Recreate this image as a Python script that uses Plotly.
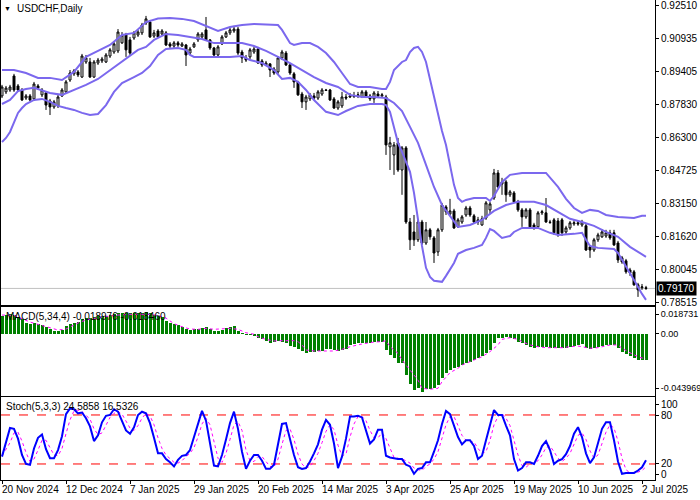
import plotly.graph_objects as go

# ---------------- data ----------------
bar_idx = list(range(162))

open_ = [0.8824,0.8843,0.8852,0.8918,0.8871,0.8852,0.8814,0.8824,0.8810,0.8871,
         0.8829,0.8838,0.8800,0.8772,0.8777,0.8824,0.8843,0.8899,0.8928,0.8937,
         0.8913,0.8984,0.8984,0.8913,0.8979,0.8989,0.8984,0.9012,0.9031,0.9036,
         0.9074,0.9111,0.9088,0.9097,0.9111,0.9121,0.9168,0.9172,0.9106,0.9130,
         0.9116,0.9121,0.9069,0.9059,0.9074,0.9059,0.9064,0.9026,0.9055,0.9088,
         0.9102,0.9135,0.9088,0.9050,0.9017,0.9069,0.9102,0.9121,0.9130,0.9139,
         0.9031,0.9003,0.9008,0.9031,0.9045,0.8989,0.8970,0.8975,0.8951,0.8937,
         0.9003,0.9026,0.8970,0.8928,0.8890,0.8833,0.8796,0.8810,0.8824,0.8814,
         0.8833,0.8852,0.8852,0.8810,0.8767,0.8777,0.8819,0.8819,0.8824,0.8824,
         0.8819,0.8843,0.8824,0.8810,0.8833,0.8824,0.8819,0.8584,0.8546,0.8603,
         0.8475,0.8579,0.8230,0.8183,0.8146,0.8230,0.8131,0.8193,0.8155,0.8089,
         0.8193,0.8301,0.8268,0.8282,0.8207,0.8230,0.8263,0.8296,0.8259,0.8230,
         0.8216,0.8249,0.8287,0.8343,0.8461,0.8409,0.8419,0.8358,0.8367,0.8325,
         0.8287,0.8254,0.8287,0.8216,0.8207,0.8273,0.8273,0.8230,0.8240,0.8235,
         0.8240,0.8183,0.8202,0.8221,0.8226,0.8216,0.8212,0.8113,0.8098,0.8146,
         0.8160,0.8164,0.8179,0.8179,0.8131,0.8061,0.8047,0.8004,0.7995,0.7934,
         0.7920,0.7920]
high_ = [0.8876,0.8871,0.8876,0.8928,0.8880,0.8861,0.8833,0.8833,0.8890,0.8880,
         0.8861,0.8843,0.8810,0.8805,0.8829,0.8861,0.8899,0.8946,0.8951,0.8946,
         0.9022,0.9017,0.9003,0.8993,0.9003,0.9008,0.9026,0.9050,0.9078,0.9139,
         0.9125,0.9121,0.9102,0.9130,0.9135,0.9168,0.9201,0.9182,0.9135,0.9139,
         0.9139,0.9130,0.9078,0.9083,0.9083,0.9078,0.9069,0.9055,0.9078,0.9125,
         0.9125,0.9196,0.9092,0.9055,0.9064,0.9111,0.9130,0.9144,0.9154,0.9149,
         0.9041,0.9017,0.9050,0.9055,0.9055,0.8998,0.8989,0.8979,0.8960,0.9012,
         0.9041,0.9036,0.8979,0.8937,0.8895,0.8843,0.8829,0.8838,0.8838,0.8852,
         0.8861,0.8857,0.8857,0.8819,0.8805,0.8843,0.8833,0.8838,0.8843,0.8843,
         0.8852,0.8852,0.8833,0.8847,0.8847,0.8838,0.8829,0.8631,0.8607,0.8626,
         0.8588,0.8588,0.8249,0.8263,0.8240,0.8240,0.8230,0.8202,0.8164,0.8202,
         0.8320,0.8310,0.8339,0.8292,0.8249,0.8263,0.8306,0.8306,0.8268,0.8254,
         0.8259,0.8329,0.8325,0.8480,0.8475,0.8438,0.8428,0.8381,0.8376,0.8334,
         0.8296,0.8296,0.8296,0.8226,0.8282,0.8287,0.8343,0.8240,0.8249,0.8249,
         0.8249,0.8212,0.8235,0.8240,0.8235,0.8240,0.8221,0.8122,0.8155,0.8179,
         0.8197,0.8193,0.8193,0.8193,0.8141,0.8070,0.8056,0.8014,0.8004,0.7943,
         0.7938,0.7929]
low_ = [0.8814,0.8833,0.8843,0.8843,0.8843,0.8800,0.8805,0.8800,0.8800,0.8852,
        0.8819,0.8758,0.8734,0.8763,0.8767,0.8819,0.8838,0.8890,0.8918,0.8913,
        0.8909,0.8975,0.8909,0.8909,0.8970,0.8979,0.8979,0.9003,0.9022,0.9026,
        0.9069,0.9008,0.9017,0.9088,0.9102,0.9111,0.9158,0.9097,0.9097,0.9097,
        0.9111,0.9059,0.9050,0.9050,0.9055,0.9055,0.8965,0.9017,0.9050,0.9078,
        0.9092,0.9083,0.9041,0.9003,0.9008,0.9064,0.9097,0.9111,0.9121,0.9017,
        0.8979,0.8984,0.8998,0.9022,0.8975,0.8960,0.8965,0.8913,0.8923,0.8928,
        0.8993,0.8965,0.8923,0.8862,0.8824,0.8767,0.8758,0.8800,0.8805,0.8805,
        0.8824,0.8847,0.8800,0.8763,0.8758,0.8767,0.8805,0.8814,0.8814,0.8814,
        0.8814,0.8814,0.8800,0.8791,0.8814,0.8814,0.8546,0.8475,0.8452,0.8466,
        0.8358,0.8221,0.8098,0.8117,0.8136,0.8122,0.8122,0.8146,0.8037,0.8070,
        0.8183,0.8263,0.8259,0.8197,0.8202,0.8221,0.8254,0.8254,0.8221,0.8216,
        0.8212,0.8240,0.8268,0.8334,0.8391,0.8358,0.8325,0.8348,0.8320,0.8278,
        0.8207,0.8245,0.8202,0.8193,0.8202,0.8263,0.8226,0.8221,0.8169,0.8160,
        0.8164,0.8174,0.8193,0.8212,0.8212,0.8207,0.8094,0.8061,0.8089,0.8136,
        0.8155,0.8155,0.8146,0.8117,0.8037,0.8033,0.7986,0.7976,0.7929,0.7877,
        0.7910,0.7910]
close_ = [0.8866,0.8861,0.8866,0.8852,0.8852,0.8805,0.8824,0.8805,0.8880,0.8861,
          0.8852,0.8781,0.8772,0.8796,0.8819,0.8852,0.8890,0.8932,0.8942,0.8923,
          0.9012,0.9003,0.8913,0.8984,0.8993,0.8998,0.9017,0.9041,0.9069,0.9125,
          0.9111,0.9041,0.9026,0.9121,0.9125,0.9158,0.9187,0.9102,0.9121,0.9102,
          0.9130,0.9064,0.9059,0.9074,0.9064,0.9069,0.9017,0.9045,0.9069,0.9116,
          0.9116,0.9088,0.9050,0.9017,0.9055,0.9102,0.9121,0.9135,0.9139,0.9026,
          0.9003,0.8993,0.9041,0.9045,0.8979,0.8970,0.8979,0.8946,0.8932,0.9003,
          0.9031,0.8970,0.8932,0.8890,0.8829,0.8796,0.8819,0.8829,0.8814,0.8843,
          0.8852,0.8850,0.8805,0.8767,0.8796,0.8819,0.8814,0.8824,0.8821,0.8829,
          0.8843,0.8824,0.8810,0.8838,0.8824,0.8829,0.8593,0.8603,0.8593,0.8475,
          0.8579,0.8230,0.8146,0.8146,0.8230,0.8131,0.8193,0.8160,0.8084,0.8193,
          0.8310,0.8278,0.8282,0.8202,0.8240,0.8254,0.8296,0.8263,0.8230,0.8240,
          0.8245,0.8320,0.8315,0.8461,0.8395,0.8419,0.8358,0.8372,0.8325,0.8287,
          0.8254,0.8287,0.8207,0.8202,0.8273,0.8278,0.8230,0.8228,0.8179,0.8169,
          0.8179,0.8202,0.8226,0.8226,0.8221,0.8230,0.8098,0.8098,0.8146,0.8169,
          0.8183,0.8179,0.8155,0.8122,0.8051,0.8042,0.7995,0.7990,0.7934,0.7910,
          0.7924,0.7917]

bb_up_idx = [0,3,6,9,12,15,18,21,24,27,30,33,36,39,42,45,48,51,54,57,60,63,66,69,70,71,72,73,
             75,77,79,81,83,85,87,89,92,95,96,97,98,100,101,102,103,104,105,106,107,108,109,
             110,111,112,113,114,115,116,118,121,122,123,124,125,127,130,136,137,139,141,143,
             145,147,149,151,154,158,160,161]
bb_up = [0.8946,0.8946,0.8932,0.8909,0.8909,0.8899,0.8937,0.9008,0.9036,0.9064,0.9111,0.9121,
         0.9172,0.9189,0.9191,0.9187,0.9177,0.9154,0.9130,0.9149,0.9158,0.9163,0.9161,0.9158,
         0.9135,0.9102,0.9073,0.9064,0.9073,0.9073,0.9055,0.9026,0.8984,0.8932,0.8880,0.8866,
         0.8866,0.8857,0.8857,0.8890,0.8946,0.8984,0.8993,0.9031,0.9050,0.9055,0.9031,0.8984,
         0.8899,0.8819,0.8744,0.8659,0.8593,0.8499,0.8405,0.8343,0.8325,0.8334,0.8343,0.8343,
         0.8329,0.8353,0.8386,0.8419,0.8452,0.8461,0.8461,0.8438,0.8395,0.8339,0.8296,0.8273,
         0.8287,0.8282,0.8263,0.8254,0.8249,0.8259,0.8259]

bb_mid_idx = [0,2,4,6,8,12,15,18,21,24,28,31,34,36,38,41,44,47,50,53,57,60,63,66,69,72,75,78,
              81,84,87,90,93,96,98,100,102,104,106,108,110,112,114,117,120,123,126,129,133,136,
              139,142,145,148,151,154,157,159,161]
bb_mid = [0.8786,0.8805,0.8847,0.8857,0.8862,0.8838,0.8829,0.8852,0.8876,0.8904,0.8960,0.9003,
          0.9041,0.9055,0.9088,0.9116,0.9111,0.9102,0.9092,0.9073,0.9073,0.9073,0.9059,0.9036,
          0.9008,0.8979,0.8946,0.8913,0.8885,0.8866,0.8829,0.8819,0.8819,0.8814,0.8791,0.8753,
          0.8678,0.8603,0.8499,0.8395,0.8310,0.8259,0.8207,0.8216,0.8240,0.8282,0.8310,0.8325,
          0.8325,0.8310,0.8278,0.8245,0.8230,0.8212,0.8183,0.8160,0.8113,0.8089,0.8066]

bb_low_idx = [0,1,2,3,4,5,6,8,10,12,14,16,18,20,22,24,26,28,30,33,35,37,39,41,44,46,47,48,57,60,
              62,65,68,70,72,74,76,78,81,84,86,89,92,95,96,97,98,99,100,101,102,103,104,105,106,
              107,108,110,111,112,113,114,116,118,120,121,122,123,125,127,128,130,134,137,139,
              143,145,146,147,149,153,154,156,158,160,161]
bb_low = [0.8607,0.8626,0.8654,0.8701,0.8744,0.8767,0.8786,0.8805,0.8810,0.8796,0.8777,0.8767,
          0.8758,0.8744,0.8734,0.8739,0.8781,0.8843,0.8885,0.8913,0.8932,0.8965,0.9017,0.9045,
          0.9050,0.9041,0.9017,0.9008,0.9008,0.9012,0.8993,0.8979,0.8946,0.8904,0.8909,0.8890,
          0.8852,0.8805,0.8749,0.8734,0.8753,0.8777,0.8786,0.8786,0.8781,0.8749,0.8678,0.8603,
          0.8560,0.8513,0.8466,0.8367,0.8230,0.8117,0.8014,0.7971,0.7953,0.7948,0.7976,0.8004,
          0.8037,0.8080,0.8098,0.8108,0.8122,0.8155,0.8197,0.8188,0.8155,0.8164,0.8183,0.8202,
          0.8202,0.8179,0.8169,0.8174,0.8179,0.8146,0.8117,0.8108,0.8103,0.8084,0.8023,0.7957,
          0.7891,0.7863]

macd_hist = [0.0131,0.0136,0.0141,0.0136,0.0124,0.0105,0.0080,0.0071,0.0076,0.0071,
             0.0063,0.0051,0.0034,0.0022,0.0022,0.0027,0.0056,0.0071,0.0080,0.0087,
             0.0105,0.0112,0.0112,0.0120,0.0129,0.0131,0.0129,0.0136,0.0144,0.0149,
             0.0149,0.0149,0.0149,0.0149,0.0149,0.0149,0.0160,0.0149,0.0136,0.0129,
             0.0120,0.0095,0.0076,0.0071,0.0063,0.0051,0.0032,0.0027,0.0032,0.0034,
             0.0044,0.0047,0.0034,0.0022,0.0022,0.0027,0.0039,0.0051,0.0056,0.0020,
             0.0003,-0.0009,-0.0009,-0.0017,-0.0029,-0.0041,-0.0053,-0.0066,-0.0058,-0.0053,
             -0.0058,-0.0070,-0.0087,-0.0099,-0.0114,-0.0126,-0.0139,-0.0131,-0.0131,-0.0126,
             -0.0124,-0.0114,-0.0114,-0.0119,-0.0124,-0.0119,-0.0114,-0.0082,-0.0075,-0.0070,
             -0.0070,-0.0066,-0.0066,-0.0063,-0.0058,-0.0058,-0.0119,-0.0155,-0.0179,-0.0216,
             -0.0211,-0.0301,-0.0369,-0.0410,-0.0398,-0.0423,-0.0405,-0.0405,-0.0398,-0.0374,
             -0.0325,-0.0284,-0.0265,-0.0252,-0.0241,-0.0228,-0.0216,-0.0204,-0.0192,-0.0175,
             -0.0163,-0.0143,-0.0119,-0.0066,-0.0034,-0.0029,-0.0026,-0.0034,-0.0041,-0.0058,
             -0.0066,-0.0082,-0.0099,-0.0106,-0.0099,-0.0095,-0.0099,-0.0102,-0.0102,-0.0102,
             -0.0106,-0.0102,-0.0095,-0.0090,-0.0082,-0.0077,-0.0106,-0.0114,-0.0106,-0.0095,
             -0.0090,-0.0082,-0.0082,-0.0082,-0.0106,-0.0131,-0.0148,-0.0163,-0.0179,-0.0192,
             -0.0190,-0.0190]

macd_sig_idx = [0,3,7,11,14,16,19,21,25,29,32,37,39,41,43,45,47,49,51,53,57,59,61,63,64,66,68,
                70,73,74,75,76,78,83,85,87,90,93,95,96,97,99,100,102,104,105,107,109,110,112,
                114,115,117,119,120,122,124,125,127,129,130,132,134,136,140,142,144,145,147,149,
                150,152,154,155,157,159,161]
macd_sig = [0.0136,0.0133,0.0085,0.0049,0.0027,0.0034,0.0078,0.0100,0.0122,0.0136,0.0141,0.0141,
            0.0133,0.0114,0.0073,0.0051,0.0034,0.0032,0.0039,0.0032,0.0039,0.0032,0.0007,-0.0004,
            -0.0022,-0.0042,-0.0053,-0.0051,-0.0051,-0.0058,-0.0082,-0.0119,-0.0126,-0.0126,
            -0.0114,-0.0095,-0.0075,-0.0061,-0.0058,-0.0051,-0.0095,-0.0143,-0.0192,-0.0265,
            -0.0338,-0.0398,-0.0405,-0.0398,-0.0350,-0.0284,-0.0252,-0.0228,-0.0204,-0.0179,
            -0.0168,-0.0131,-0.0082,-0.0041,-0.0029,-0.0041,-0.0058,-0.0082,-0.0095,-0.0102,
            -0.0102,-0.0095,-0.0090,-0.0095,-0.0106,-0.0102,-0.0095,-0.0082,-0.0082,-0.0106,
            -0.0139,-0.0168,-0.0185]

stoch_main = [29,46,64,63,51,31,20,19,39,52,56,38,27,27,37,54,81,88,87,82,
              83,76,66,48,55,71,79,80,87,84,73,61,57,65,80,84,82,70,52,33,
              33,26,22,17,25,30,31,37,53,70,85,73,47,18,17,31,50,70,84,63,
              35,14,24,31,31,24,14,14,19,44,69,70,49,31,16,14,15,23,33,44,
              62,74,68,45,15,29,51,78,78,79,77,62,45,50,62,62,30,28,27,26,
              26,19,17,8,14,15,22,22,35,49,69,85,81,68,53,44,49,49,42,26,
              30,49,69,86,80,80,67,55,26,12,15,22,22,20,30,42,48,37,20,24,
              26,32,42,57,65,53,33,21,28,44,63,71,71,49,23,8,9,9,9,12,
              16,24.59]
stoch_sig = [30,38,46,58,59,48,34,23,26,37,49,49,40,31,30,39,57,74,85,86,
             84,80,75,63,56,58,68,77,82,84,81,73,64,61,67,76,82,79,68,52,
             39,31,27,22,21,24,29,33,40,53,69,76,68,46,27,22,33,50,68,72,
             61,37,24,23,29,29,23,17,16,26,44,61,63,50,32,20,15,17,24,33,
             46,60,68,62,43,30,32,53,69,78,78,73,61,52,52,58,51,40,28,27,
             26,24,21,15,13,12,17,20,26,35,51,68,78,78,67,55,49,47,47,39,
             33,35,49,68,78,82,76,67,49,31,18,16,20,21,24,31,40,42,35,27,
             23,27,33,44,55,58,50,36,27,31,45,59,68,64,48,27,13,9,9,10,
             12,16.53]

price_ticks = [0.92510, 0.90935, 0.89405, 0.87830, 0.86300, 0.84725, 0.83150, 0.81620, 0.80045, 0.78515]
last_price = 0.79170
macd_tick_text = ["0.018731", "0.00", "-0.043969"]
stoch_tick_text = ["100", "80", "20", "0"]
stoch_levels = [20, 80]
date_tick_idx = [0, 16, 32, 48, 64, 80, 96, 112, 128, 144, 160]
date_labels = ["20 Nov 2024", "12 Dec 2024", "7 Jan 2025", "29 Jan 2025", "20 Feb 2025",
               "14 Mar 2025", "3 Apr 2025", "25 Apr 2025", "19 May 2025", "10 Jun 2025", "2 Jul 2025"]
title_text = "USDCHF,Daily"
macd_text = "MACD(5,34,4) -0.018976 -0.018460"
stoch_text = "Stoch(5,3,3) 24.5858 16.5326"

# ---------------- layout geometry ----------------
W, H = 700, 500
ML, MR, MT, MB = 1, 45, 0, 20
PH = H - MT - MB          # plot-area height in px
PW = W - ML - MR


def fy(px):               # pixel row -> paper fraction
    return (H - MB - px) / PH


def fx(px):
    return (px - ML) / PW


FONT = "Liberation Sans, Arial, sans-serif"
FS = 10
BB_COLOR = "#7B68EE"

fig = go.Figure()

fig.add_trace(go.Candlestick(
    x=bar_idx, open=open_, high=high_, low=low_, close=close_,
    increasing=dict(line=dict(color="black", width=1), fillcolor="white"),
    decreasing=dict(line=dict(color="black", width=1), fillcolor="black"),
    whiskerwidth=0, xaxis="x", yaxis="y", hoverinfo="skip", showlegend=False))

for xs, ys in [(bb_up_idx, bb_up), (bb_mid_idx, bb_mid), (bb_low_idx, bb_low)]:
    fig.add_trace(go.Scatter(x=xs, y=ys, mode="lines", line=dict(color=BB_COLOR, width=2),
                             xaxis="x", yaxis="y", hoverinfo="skip", showlegend=False))

fig.add_trace(go.Bar(x=bar_idx, y=macd_hist, marker=dict(color="#008000", line=dict(width=0)),
                     width=0.75, xaxis="x2", yaxis="y2", hoverinfo="skip", showlegend=False))
fig.add_trace(go.Scatter(x=macd_sig_idx, y=macd_sig, mode="lines",
                         line=dict(color="#FF00FF", width=1, dash="dot"),
                         xaxis="x2", yaxis="y2", hoverinfo="skip", showlegend=False))

fig.add_trace(go.Scatter(x=bar_idx, y=stoch_sig, mode="lines",
                         line=dict(color="#FF00FF", width=1, dash="dot"),
                         xaxis="x3", yaxis="y3", hoverinfo="skip", showlegend=False))
fig.add_trace(go.Scatter(x=bar_idx, y=stoch_main, mode="lines",
                         line=dict(color="#0000FF", width=2),
                         xaxis="x3", yaxis="y3", hoverinfo="skip", showlegend=False))

xr = [-0.25, 163.25]
axis_common = dict(showline=True, mirror=True, linecolor="black", linewidth=1,
                   showgrid=False, zeroline=False, automargin=False)
ytick_font = dict(family=FONT, size=FS, color="black")

fig.update_layout(
    width=W, height=H, margin=dict(l=ML, r=MR, t=MT, b=MB, autoexpand=False),
    paper_bgcolor="white", plot_bgcolor="white", showlegend=False,
    font=dict(family=FONT, size=FS, color="black"),
    bargap=0, hovermode=False, dragmode=False,
    xaxis=dict(domain=[0, 1], range=xr, anchor="y", showticklabels=False, ticks="",
               rangeslider=dict(visible=False), **axis_common),
    xaxis2=dict(domain=[0, 1], range=xr, anchor="y2", matches="x", showticklabels=False,
                ticks="", **axis_common),
    xaxis3=dict(domain=[0, 1], range=xr, anchor="y3", matches="x", showticklabels=False,
                ticks="outside", ticklen=3, tickcolor="black", tickvals=date_tick_idx,
                **axis_common),
    yaxis=dict(domain=[fy(304.5), 1.0], range=[0.78412, 0.92760], anchor="x", side="right",
               tickvals=price_ticks, ticktext=["%.5f" % v for v in price_ticks],
               ticks="outside", ticklen=3, tickcolor="black", tickfont=ytick_font,
               ticklabeloverflow="allow", **axis_common),
    yaxis2=dict(domain=[fy(395.5), fy(306.5)], range=[-0.04505, 0.01983], anchor="x2",
                side="right", tickvals=[0.01414, 0.0, -0.0398], ticktext=macd_tick_text,
                ticks="outside", ticklen=3, tickcolor="black",
                tickfont=dict(family=FONT, size=9, color="black"),
                ticklabeloverflow="allow", **axis_common),
    yaxis3=dict(domain=[0, fy(397)], range=[0.37, 102.0], anchor="x3", side="right",
                tickvals=[93.4, 79, 20, 7.7], ticktext=stoch_tick_text,
                ticks="outside", ticklen=3, tickcolor="black", tickfont=ytick_font,
                ticklabeloverflow="allow", **axis_common),
)

shapes = [
    dict(type="line", xref="paper", yref="y", x0=0, x1=1, y0=last_price, y1=last_price,
         line=dict(color="#C0C0C0", width=1), layer="below"),
]
for lv in stoch_levels:
    shapes.append(dict(type="line", xref="paper", yref="y3", x0=0, x1=1, y0=lv, y1=lv,
                       line=dict(color="#FF0000", width=1, dash="dash"), layer="below"))
fig.update_layout(shapes=shapes)

ann = [
    dict(text="▼", xref="paper", yref="paper", x=fx(7), y=fy(8), showarrow=False,
         xanchor="center", yanchor="middle", font=dict(size=7, color="black")),
    dict(text=title_text, xref="paper", yref="paper", x=fx(15), y=fy(8), showarrow=False,
         xanchor="left", yanchor="middle", font=dict(family=FONT, size=10, color="black")),
    dict(text=macd_text, xref="paper", yref="paper", x=fx(4), y=fy(316), showarrow=False,
         xanchor="left", yanchor="middle", font=dict(family=FONT, size=FS, color="black")),
    dict(text=stoch_text, xref="paper", yref="paper", x=fx(4), y=fy(406), showarrow=False,
         xanchor="left", yanchor="middle", font=dict(family=FONT, size=FS, color="black")),
    dict(text="%.5f" % last_price, xref="paper", yref="y", x=1, y=last_price, showarrow=False,
         xanchor="left", yanchor="middle", xshift=1, bgcolor="black", borderpad=1,
         font=dict(family=FONT, size=FS, color="white")),
]
for ti, lab in zip(date_tick_idx, date_labels):
    ann.append(dict(text=lab, xref="x3", yref="paper", x=ti, y=fy(490), showarrow=False,
                    xanchor="left", yanchor="middle", xshift=-2,
                    font=dict(family=FONT, size=FS, color="black")))
fig.update_layout(annotations=ann)

fig.write_html("out.html",
               config={"displayModeBar": False, "staticPlot": True},
               post_script="document.body.style.margin='0';document.body.style.padding='0';")
